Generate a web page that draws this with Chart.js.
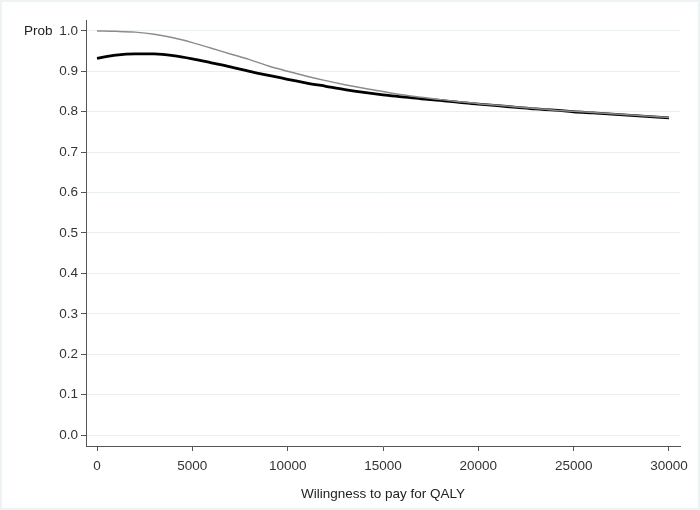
<!DOCTYPE html>
<html lang="en">
<head>
    <meta charset="UTF-8">
    <title>Willingness to pay curve</title>
    <script src="https://cdn.jsdelivr.net/npm/chart.js"></script>
    <style>
        html, body { margin: 0; padding: 0; background: #fff; }
        #wrap { position: relative; width: 700px; height: 510px; }
        #frame {
            position: absolute; left: 0; top: 0; width: 696px; height: 506px;
            border: 2px solid #edf2f2; pointer-events: none;
        }
    </style>
</head>
<body>
    <div id="wrap">
        <canvas id="ceac" width="700" height="510"></canvas>
        <div id="frame"></div>
    </div>

    <script>
        // --- DATA ---
        const wtp = [0, 1000, 2000, 3000, 4000, 5000, 6000, 7000, 8000, 9000, 10000,
                     11000, 12000, 13000, 14000, 15000, 16000, 17000, 18000, 19000, 20000,
                     21000, 22000, 23000, 24000, 25000, 26000, 27000, 28000, 29000, 30000];
        const probGrey = [1.000, 0.999, 0.997, 0.992, 0.983, 0.971, 0.957, 0.943, 0.929, 0.913, 0.900,
                          0.888, 0.877, 0.867, 0.858, 0.850, 0.842, 0.836, 0.830, 0.825, 0.820,
                          0.816, 0.812, 0.808, 0.804, 0.801, 0.798, 0.795, 0.792, 0.789, 0.786];
        const probBlack = [0.932, 0.940, 0.943, 0.943, 0.939, 0.931, 0.921, 0.911, 0.900, 0.890, 0.880,
                           0.871, 0.863, 0.855, 0.848, 0.842, 0.837, 0.832, 0.828, 0.823, 0.819,
                           0.815, 0.811, 0.807, 0.804, 0.800, 0.797, 0.794, 0.791, 0.788, 0.785];
        const xTicks = [0, 5000, 10000, 15000, 20000, 25000, 30000];
        const yTicks = [0, 0.1, 0.2, 0.3, 0.4, 0.5, 0.6, 0.7, 0.8, 0.9, 1.0];

        const toPoints = vals => wtp.map((x, i) => ({ x: x, y: vals[i] }));
        const tickFont = { family: "'Liberation Sans', Arial, sans-serif", size: 13.5 };

        // "Prob" label beside the top tick
        const probLabel = {
            id: 'probLabel',
            afterDraw(chart) {
                const { ctx, scales } = chart;
                ctx.save();
                ctx.font = "13.5px 'Liberation Sans', Arial, sans-serif";
                ctx.fillStyle = '#222';
                ctx.textBaseline = 'middle';
                ctx.textAlign = 'left';
                ctx.fillText('Prob', 24, scales.y.getPixelForValue(1.0));
                ctx.restore();
            }
        };

        new Chart(document.getElementById('ceac'), {
            type: 'line',
            data: {
                datasets: [
                    {
                        label: 'grey',
                        data: toPoints(probGrey),
                        borderColor: '#8c8c8c',
                        borderWidth: 1.5,
                        pointRadius: 0,
                        cubicInterpolationMode: 'monotone',
                        fill: false
                    },
                    {
                        label: 'black',
                        data: toPoints(probBlack),
                        borderColor: '#000000',
                        borderWidth: 2.8,
                        pointRadius: 0,
                        cubicInterpolationMode: 'monotone',
                        fill: false
                    }
                ]
            },
            options: {
                responsive: false,
                animation: false,
                devicePixelRatio: 1,
                layout: { padding: { left: 0, top: 20, right: 20, bottom: 0 } },
                plugins: {
                    legend: { display: false },
                    tooltip: { enabled: false }
                },
                scales: {
                    x: {
                        type: 'linear',
                        min: -577,
                        max: 30577,
                        afterBuildTicks: s => { s.ticks = xTicks.map(v => ({ value: v })); },
                        afterFit: s => { s.height = 64; },
                        border: { display: true, color: '#555', width: 1 },
                        grid: { drawOnChartArea: false, drawTicks: true, tickLength: 5, tickColor: '#555' },
                        ticks: { font: tickFont, color: '#333', padding: 7, maxRotation: 0, callback: v => String(v) },
                        title: {
                            display: true,
                            text: 'Wilingness to pay for QALY',
                            font: tickFont,
                            color: '#222',
                            padding: { top: 0, bottom: 8 }
                        }
                    },
                    y: {
                        min: -0.027,
                        max: 1.027,
                        afterBuildTicks: s => { s.ticks = yTicks.map(v => ({ value: v })); },
                        afterFit: s => { s.width = 86; },
                        border: { display: true, color: '#555', width: 1 },
                        grid: { color: '#e9efef', lineWidth: 1, drawTicks: true, tickLength: 5, tickColor: '#555' },
                        ticks: {
                            font: tickFont,
                            color: '#333',
                            padding: 3,
                            callback: v => v.toFixed(1)
                        }
                    }
                }
            },
            plugins: [probLabel]
        });
    </script>
</body>
</html>
